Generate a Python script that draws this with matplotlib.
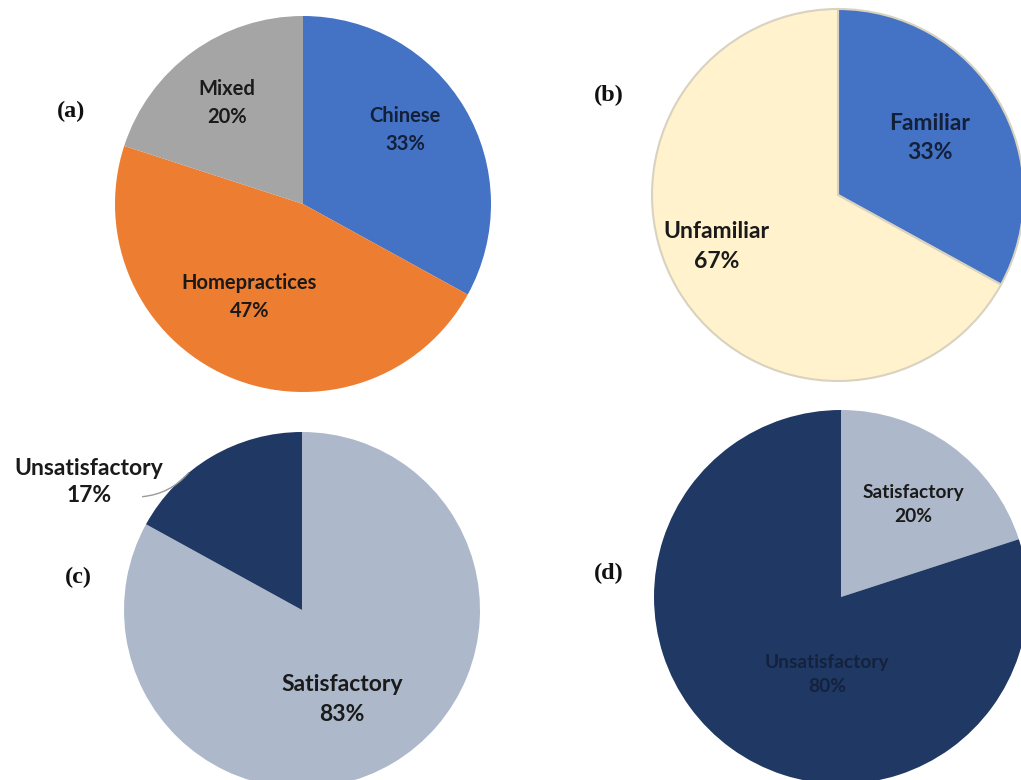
import numpy as np
import matplotlib.pyplot as plt

# canvas size in pixels, everything below is laid out in pixel units
W, H = 1021, 780

# (a) medicine preference
a_labels = ["Chinese", "Homepractices", "Mixed"]
a_values = [33, 47, 20]
# (b) familiarity
b_labels = ["Familiar", "Unfamiliar"]
b_values = [33, 67]
# (c) satisfaction
c_labels = ["Satisfactory", "Unsatisfactory"]
c_values = [83, 17]
# (d) satisfaction
d_labels = ["Satisfactory", "Unsatisfactory"]
d_values = [20, 80]

fig = plt.figure(figsize=(W / 100, H / 100), dpi=100)
ax = fig.add_axes([0, 0, 1, 1])

LABEL_FONT = dict(family="Lato", fontweight="bold", ha="center", va="center")


def draw_pie(values, labels, colors, center, radius, label_pos, size,
             text_colors, edge=None, lw=0):
    cx, cy = center[0], H - center[1]
    wedges, _ = ax.pie(values, colors=colors, startangle=90, counterclock=False,
                       center=(cx, cy), radius=radius,
                       wedgeprops=dict(edgecolor=edge if edge else "none",
                                       linewidth=lw))
    for i, (w, lab, val) in enumerate(zip(wedges, labels, values)):
        pos = label_pos[i]
        if pos is None:
            continue
        dist, ang = pos
        if ang is None:
            ang = (w.theta1 + w.theta2) / 2
        x = cx + dist * radius * np.cos(np.radians(ang))
        y = cy + dist * radius * np.sin(np.radians(ang))
        ax.text(x, y, f"{lab}\n{val}%", fontsize=size, color=text_colors[i],
                linespacing=1.5, **LABEL_FONT)
    return wedges


# (a)
draw_pie(a_values, a_labels, ["#4472C4", "#ED7D31", "#A5A5A5"],
         (303, 204), 188, [(0.67, 36), (0.57, -120), (0.67, 127)], 14.5,
         ["#13203a", "#1a1a1a", "#1a1a1a"])

# (b)
draw_pie(b_values, b_labels, ["#4472C4", "#FFF2CC"],
         (838, 195), 186, [(0.58, 32), (0.71, 203)], 16.5,
         ["#13203a", "#1a1a1a"], edge="#d8d2bf", lw=1.5)

# (c)
wc = draw_pie(c_values, c_labels, ["#ADB9CA", "#1F3864"],
              (302, 610), 178, [(0.55, -66), None], 16.5,
              ["#1a1a1a", "#1a1a1a"])
# outside label with leader line for the small slice
cx, cy = 302, H - 610
ang = np.radians((wc[1].theta1 + wc[1].theta2) / 2 + 9)
tip = (cx + 178 * np.cos(ang), cy + 178 * np.sin(ang))
ax.annotate(f"{c_labels[1]}\n{c_values[1]}%", xy=tip, xytext=(89, H - 482),
            fontsize=16.5, color="#1a1a1a", linespacing=1.4,
            arrowprops=dict(arrowstyle="-", color="#9a9a9a", lw=1.0,
                            relpos=(0.86, 0.2), patchA=None,
                            shrinkA=0, shrinkB=0,
                            connectionstyle="arc3,rad=0.2"),
            **LABEL_FONT)

# (d)
draw_pie(d_values, d_labels, ["#ADB9CA", "#1F3864"],
         (841, 597), 187, [(0.63, 52), (0.42, -100)], 13.8,
         ["#1a1a1a", "#14223d"])

# panel letters
for txt, x, y in [("(a)", 71, 111), ("(b)", 609, 95), ("(c)", 78, 577), ("(d)", 609, 573)]:
    ax.text(x, H - y, txt, family="Liberation Serif", fontweight="bold",
            fontsize=17.5, ha="center", va="center", color="#111111")

ax.set_xlim(0, W)
ax.set_ylim(0, H)
ax.set_aspect("equal")
ax.axis("off")

fig.savefig("out.png", dpi=100)
